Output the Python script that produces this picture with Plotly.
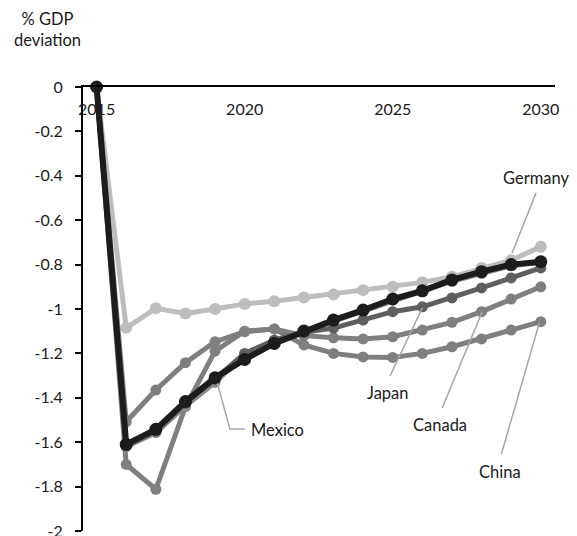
import plotly.graph_objects as go

# Simulated GDP deviation path, 2015-2030 (% of baseline GDP)
years = list(range(2015, 2031))

germany = [0, -1.085, -0.997, -1.02, -1.0, -0.977, -0.965, -0.948, -0.935,
           -0.915, -0.90, -0.88, -0.855, -0.815, -0.78, -0.72]
china = [0, -1.70, -1.812, -1.44, -1.19, -1.10, -1.09, -1.162, -1.20,
         -1.216, -1.218, -1.20, -1.17, -1.135, -1.095, -1.057]
canada = [0, -1.508, -1.365, -1.242, -1.147, -1.102, -1.09, -1.12, -1.13,
          -1.135, -1.125, -1.095, -1.06, -1.012, -0.955, -0.90]
mexico = [0, -1.62, -1.557, -1.437, -1.33, -1.205, -1.145, -1.10, -1.055,
          -1.01, -0.96, -0.92, -0.875, -0.84, -0.805, -0.79]
japan = [0, -1.615, -1.55, -1.425, -1.315, -1.20, -1.14, -1.105, -1.086,
         -1.05, -1.012, -0.99, -0.95, -0.905, -0.86, -0.815]
united_states = [0, -1.61, -1.542, -1.417, -1.31, -1.227, -1.155, -1.099,
                 -1.05, -1.005, -0.955, -0.918, -0.869, -0.832, -0.80, -0.787]

y_ticks = [0, -0.2, -0.4, -0.6, -0.8, -1, -1.2, -1.4, -1.6, -1.8, -2]
y_tick_text = ["0", "-0.2", "-0.4", "-0.6", "-0.8", "-1", "-1.2", "-1.4",
               "-1.6", "-1.8", "-2"]
x_ticks = [2015, 2020, 2025, 2030]
x_range = [2014.54, 2030.48]

FONT = "Lato"
TEXT = "#1a1a1a"

# drawing order: lighter series underneath, the US path on top
series = [
    ("Germany", germany, "#bdbdbd", 5, 12),
    ("China", china, "#7f7f7f", 5, 11),
    ("Canada", canada, "#7f7f7f", 5, 11),
    ("Mexico", mexico, "#8a8a8a", 5, 11),
    ("Japan", japan, "#5f5f5f", 5, 11),
    ("United States", united_states, "#1c1c1c", 6, 13),
]

fig = go.Figure()
for name, vals, color, lw, ms in series:
    fig.add_trace(go.Scatter(
        x=years, y=vals, name=name, mode="lines+markers",
        line=dict(color=color, width=lw),
        marker=dict(color=color, size=ms),
        cliponaxis=False, showlegend=False,
    ))

# labels with leader lines: (text, text centre, leader start, leader end)
labels = [
    ("Germany", (2029.85, -0.41), [(2029.84, -0.477), (2029.03, -0.748)]),
    ("Japan", (2024.85, -1.378), [(2024.91, -1.302), (2026.0, -0.995)]),
    ("Canada", (2026.6, -1.522), [(2026.67, -1.446), (2028.02, -1.013)]),
    ("China", (2028.63, -1.734), [(2028.67, -1.653), (2029.95, -1.063)]),
]
for text, (tx, ty), pts in labels:
    fig.add_annotation(x=tx, y=ty, text=text, showarrow=False,
                       font=dict(family=FONT, size=16.5, color=TEXT))
    (x0, y0), (x1, y1) = pts
    fig.add_shape(type="line", x0=x0, y0=y0, x1=x1, y1=y1,
                  line=dict(color="#a6a6a6", width=1.5))

# Mexico label with an elbow leader
fig.add_annotation(x=2020.15, y=-1.545, text="Mexico", showarrow=False,
                   xanchor="left", font=dict(family=FONT, size=16.5, color=TEXT))
fig.add_shape(type="path",
              path="M 2020.0,-1.54 L 2019.5,-1.54 L 2019.08,-1.335",
              line=dict(color="#a6a6a6", width=1.5))

# axis title in the top-left corner
fig.add_annotation(xref="paper", yref="paper", x=-0.075, y=1.0, yshift=35,
                   text="% GDP<br>deviation", showarrow=False, align="center",
                   xanchor="center", yanchor="bottom",
                   font=dict(family=FONT, size=16.5, color=TEXT))

fig.update_layout(
    width=577, height=536,
    margin=dict(l=83, r=22, t=87, b=5, autoexpand=False),
    paper_bgcolor="white", plot_bgcolor="white",
    font=dict(family=FONT, size=16, color=TEXT),
    # the horizontal axis line sits on the zero level at the top of the plot
    xaxis=dict(
        range=x_range, side="top", tickvals=x_ticks, showticklabels=False,
        ticks="", showgrid=False, zeroline=False, automargin=False,
        showline=True, linecolor="black", linewidth=1.5,
    ),
    # year labels hang just beneath that line
    xaxis2=dict(
        range=x_range, overlaying="x", anchor="free", position=0.93,
        side="top", tickvals=x_ticks, ticks="", showline=False,
        showgrid=False, zeroline=False, automargin=False,
        tickfont=dict(family=FONT, size=16, color=TEXT),
    ),
    yaxis=dict(
        range=[-2, 0], tickvals=y_ticks, ticktext=y_tick_text,
        ticks="outside", ticklen=6, tickwidth=1.5, tickcolor="black",
        showgrid=False, zeroline=False, showline=True, linecolor="black",
        linewidth=2, ticklabelstandoff=9, ticklabeloverflow="allow",
        automargin=False,
        tickfont=dict(family=FONT, size=16, color=TEXT),
    ),
)

# an invisible trace keeps the label axis active
fig.add_trace(go.Scatter(x=x_range, y=[None, None], xaxis="x2", yaxis="y",
                         mode="lines", showlegend=False, hoverinfo="skip"))

fig.write_html("out.html")
